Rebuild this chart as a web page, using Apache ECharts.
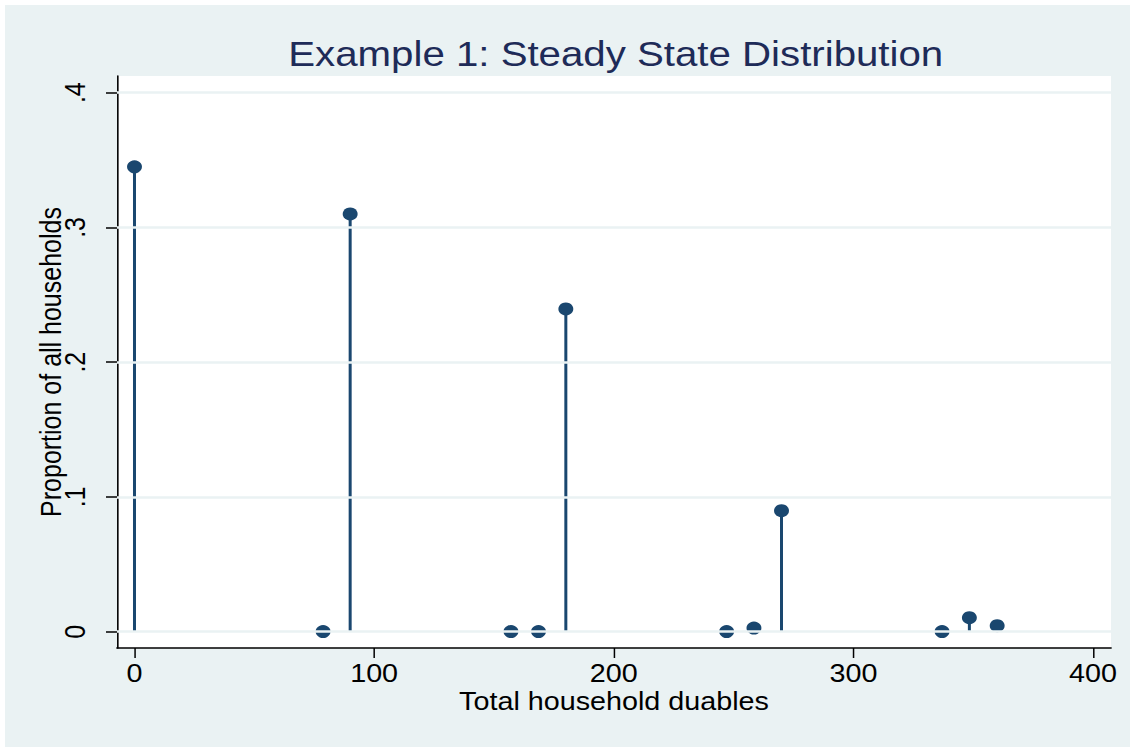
<!DOCTYPE html>
<html>
<head>
<meta charset="utf-8">
<script src="https://cdn.jsdelivr.net/npm/echarts@6/dist/echarts.min.js"></script>
<style>
html,body{margin:0;padding:0;background:#fff;overflow:hidden;}
#wrap{width:1130px;height:747px;overflow:hidden;}
#chart{width:983px;height:747px;transform:scaleX(1.149542);transform-origin:0 0;}
</style>
</head>
<body>
<div id="wrap"><div id="chart"></div></div>
<script>
const titleText = 'Example 1: Steady State Distribution';
const xName = 'Total household duables';
const yName = 'Proportion of all households';
const durables = [0, 78.7, 90, 157.1, 168.6, 180, 247.1, 258.5, 270, 337, 348.4, 360];
const proportions = [0.345, 0.0001, 0.31, 0.0001, 0.0001, 0.2395, 0.0001, 0.0027, 0.0898, 0.0001, 0.0104, 0.0045];
const xTicks = [0, 100, 200, 300, 400];
const yTicks = [0, 0.1, 0.2, 0.3, 0.4];
const yTickLabels = ['0', '.1', '.2', '.3', '.4'];

const S = 1130 / 983; // horizontal stretch of the original graph
const navy = '#1a476f';
const bg = '#eaf2f3';
const points = durables.map((d, i) => [d, proportions[i]]);

const chart = echarts.init(document.getElementById('chart'), null, {renderer: 'svg'});
chart.setOption({
  backgroundColor: '#ffffff',
  animation: false,
  graphic: [{
    type: 'rect', z: -100, silent: true,
    shape: {x: 5 / S, y: 5, width: 1125 / S, height: 742},
    style: {fill: bg}
  }],
  title: {
    text: titleText,
    left: 610 / S, top: 31, textAlign: 'center',
    textStyle: {fontFamily: 'Liberation Sans', fontSize: 35, fontWeight: 'normal', color: '#1e2b58'}
  },
  grid: {
    left: 117 / S, right: 19 / S, top: 76, bottom: 99,
    show: true, backgroundColor: '#ffffff', borderWidth: 0
  },
  xAxis: {
    type: 'value', min: -7.3, max: 407.5,
    name: xName, nameLocation: 'middle', nameGap: 41, nameMoveOverlap: false,
    nameTextStyle: {fontFamily: 'Liberation Sans', fontSize: 25, color: '#000'},
    axisLine: {show: true, onZero: false, lineStyle: {color: '#000', width: 1.6}},
    axisTick: {show: true, length: 10, customValues: xTicks, lineStyle: {color: '#000', width: 1.5 / S}},
    axisLabel: {customValues: xTicks, margin: 13, fontFamily: 'Liberation Sans', fontSize: 25, color: '#000'},
    splitLine: {show: false}
  },
  yAxis: {
    type: 'value', min: -0.0121, max: 0.4124,
    name: yName, nameLocation: 'middle', nameGap: 51 / S, nameRotate: 90, nameMoveOverlap: false,
    nameTextStyle: {fontFamily: 'Liberation Sans', fontSize: 25, color: '#000'},
    axisLine: {show: true, onZero: false, lineStyle: {color: '#000', width: 1.6 / S}},
    axisTick: {show: true, length: 11 / S, customValues: yTicks, lineStyle: {color: '#000', width: 1.5}},
    axisLabel: {
      customValues: yTicks, rotate: 90, margin: 27 / S,
      fontFamily: 'Liberation Sans', fontSize: 25, color: '#000',
      formatter: v => { const i = yTicks.findIndex(t => Math.abs(t - v) < 1e-9); return i >= 0 ? yTickLabels[i] : ''; }
    },
    splitLine: {show: false}
  },
  series: [
    {
      type: 'scatter', data: [], z: 1, silent: true,
      markLine: {
        silent: true, symbol: 'none', label: {show: false},
        lineStyle: {color: bg, width: 2.5, type: 'solid'},
        emphasis: {disabled: true},
        data: yTicks.map(t => ({yAxis: t}))
      }
    },
    {
      type: 'custom', z: 2, silent: true,
      data: points,
      renderItem: (params, api) => {
        const p0 = api.coord([api.value(0), 0]);
        const p1 = api.coord([api.value(0), api.value(1)]);
        return {type: 'line', shape: {x1: p0[0], y1: p0[1], x2: p1[0], y2: p1[1]},
                style: {stroke: navy, lineWidth: 3 / S}};
      }
    },
    {
      type: 'scatter', z: 3, silent: true,
      data: points, symbol: 'circle', symbolSize: [13, 13],
      itemStyle: {color: navy, opacity: 1}
    }
  ]
});
</script>
</body>
</html>
